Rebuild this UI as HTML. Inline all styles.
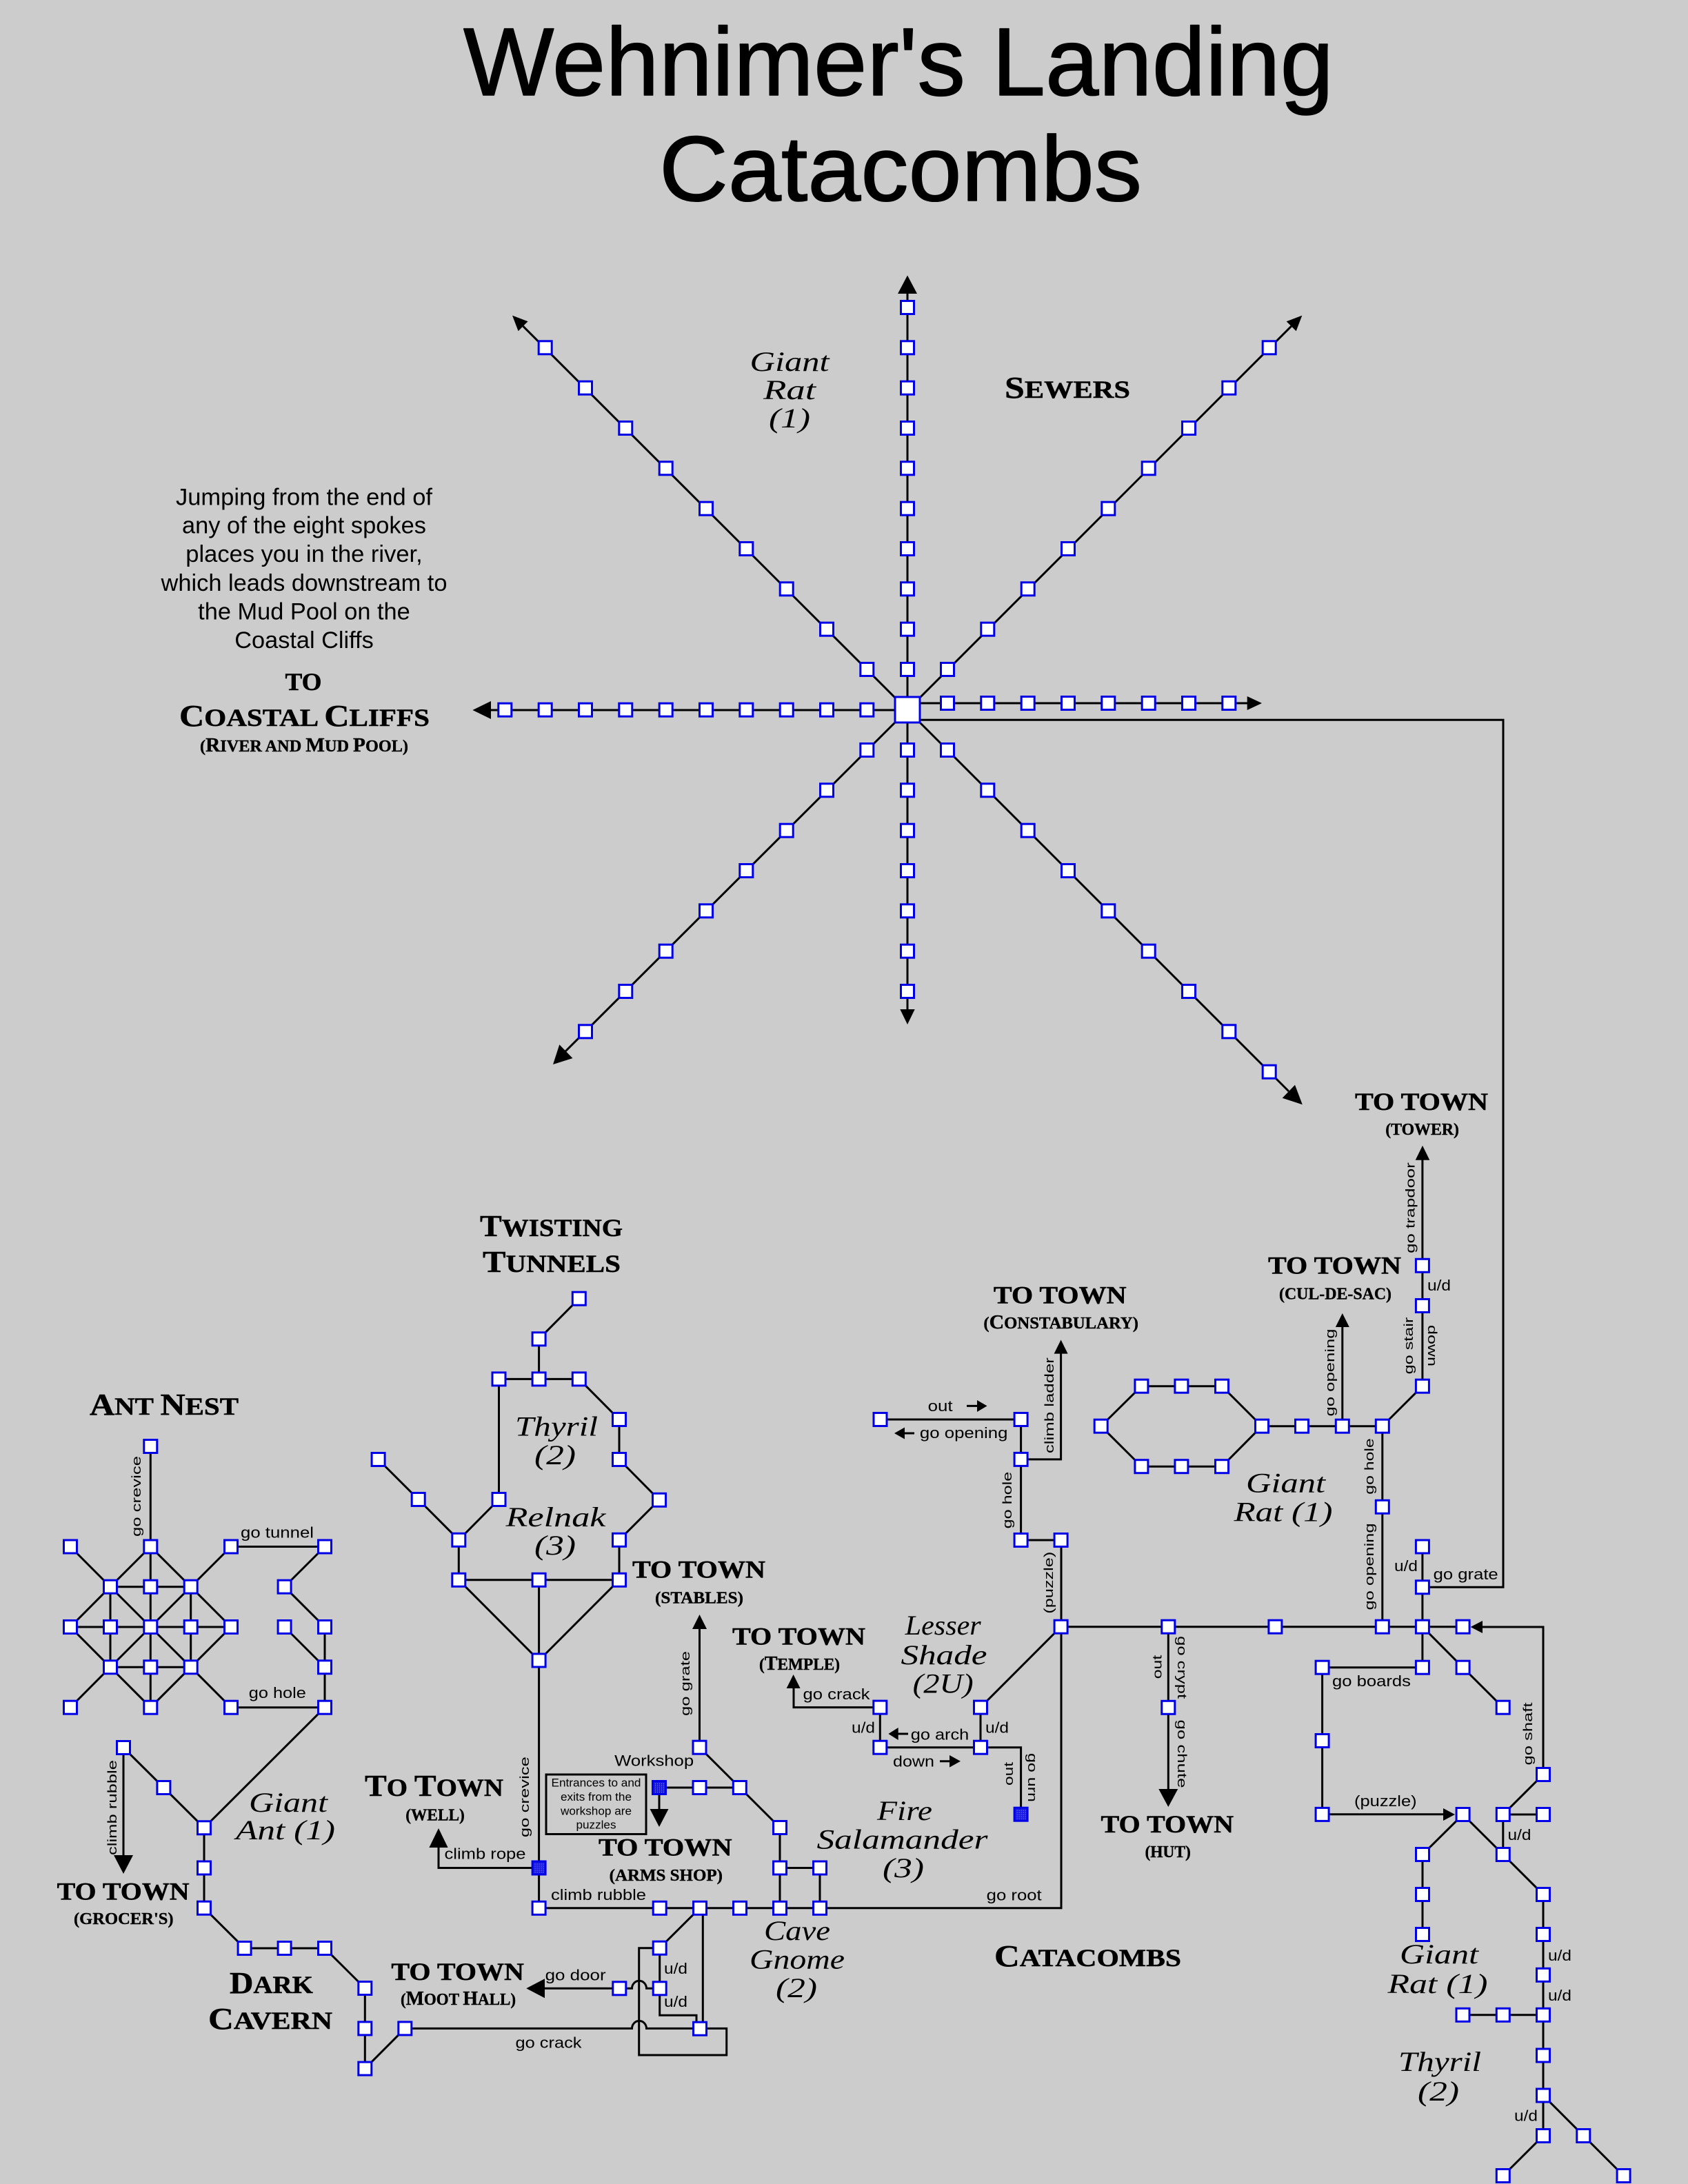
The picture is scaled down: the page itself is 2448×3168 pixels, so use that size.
<!DOCTYPE html>
<html><head><meta charset="utf-8"><title>Wehnimer's Landing Catacombs</title>
<style>
html,body{margin:0;padding:0;background:#ccc}
svg{display:block}
text{fill:#000;text-anchor:middle}
.l{font:22px "Liberation Sans",sans-serif}
.r{font:18.5px "Liberation Sans",sans-serif}
.j{font:34px "Liberation Sans",sans-serif}
.b{font:17px "Liberation Sans",sans-serif}
.h{font:bold 36px "Liberation Serif",serif;stroke:#000;stroke-width:.5}
.u{font:bold 24px "Liberation Serif",serif;stroke:#000;stroke-width:.4}
.c{font:italic 40px "Liberation Serif",serif}
.t{font:140px "Liberation Sans",sans-serif;stroke:#000;stroke-width:1.5;stroke-linejoin:round}
.w{fill:none;stroke:#000;stroke-width:3}
</style></head><body>
<svg xmlns="http://www.w3.org/2000/svg" width="2448" height="3168" viewBox="0 0 2448 3168">
<defs>
<rect id="n" x="-9.5" y="-9.5" width="19" height="19" fill="#fff" stroke="#0000e6" stroke-width="3"/>
<pattern id="p" width="3" height="3" patternUnits="userSpaceOnUse"><rect width="3" height="3" fill="#1a1ae6"/><rect width="1" height="1" fill="#9a9af5"/></pattern>
<rect id="f" x="-9.5" y="-9.5" width="19" height="19" fill="url(#p)" stroke="#0000e6" stroke-width="3"/>
</defs>
<rect width="2448" height="3168" fill="#ccc"/>

<text class="t" x="1303" y="138" textLength="1262" lengthAdjust="spacingAndGlyphs">Wehnimer's Landing</text>
<text class="t" x="1306" y="291" textLength="700" lengthAdjust="spacingAndGlyphs" style="font-size:134px">Catacombs</text>

<!-- sewers -->
<g class="w">
<path d="M1316 1030V426M1316 1030V1465M1316 1030H712M1316 1020H1809M1316 1030L758.6 473.2M1316 1030L1872.7 473.2M1316 1030L820 1525M1316 1030L1869 1583"/>
<path d="M1335 1044.3H2180V2302.3H2062.9"/>
</g>
<g>
<path d="M1316 399.5L1302 426H1330Z"/>
<path d="M1316 1486L1305.3 1464H1326.7Z"/>
<path d="M685.4 1030L712 1017V1043Z"/>
<path d="M1830 1020L1808.7 1010V1030Z"/>
<path d="M743 457.6L765.6 466.2L751.6 480.2Z"/>
<path d="M1888.3 457.6L1865.7 466.2L1879.7 480.2Z"/>
<path d="M802 1544L811.3 1515.3L830.4 1535Z"/>
<path d="M1888.8 1602.3L1878 1573.7L1859.7 1592.7Z"/>
</g>
<rect x="1298" y="1011" width="36" height="37" fill="#fff" stroke="#0000e6" stroke-width="3"/>
<g>
<use href="#n" x="1316" y="971"/><use href="#n" x="1316" y="912.7"/><use href="#n" x="1316" y="854.3"/><use href="#n" x="1316" y="796"/><use href="#n" x="1316" y="737.7"/><use href="#n" x="1316" y="679.3"/><use href="#n" x="1316" y="621"/><use href="#n" x="1316" y="562.7"/><use href="#n" x="1316" y="504.3"/><use href="#n" x="1316" y="446"/>
<use href="#n" x="1316" y="1088"/><use href="#n" x="1316" y="1146.3"/><use href="#n" x="1316" y="1204.7"/><use href="#n" x="1316" y="1263"/><use href="#n" x="1316" y="1321.3"/><use href="#n" x="1316" y="1379.7"/><use href="#n" x="1316" y="1438"/>
<use href="#n" x="1257.3" y="1029.7"/><use href="#n" x="1199" y="1029.7"/><use href="#n" x="1140.7" y="1029.7"/><use href="#n" x="1082.3" y="1029.7"/><use href="#n" x="1024" y="1029.7"/><use href="#n" x="965.7" y="1029.7"/><use href="#n" x="907.3" y="1029.7"/><use href="#n" x="849" y="1029.7"/><use href="#n" x="790.7" y="1029.7"/><use href="#n" x="732.3" y="1029.7"/>
<use href="#n" x="1374" y="1020"/><use href="#n" x="1432.3" y="1020"/><use href="#n" x="1490.7" y="1020"/><use href="#n" x="1549" y="1020"/><use href="#n" x="1607.3" y="1020"/><use href="#n" x="1665.7" y="1020"/><use href="#n" x="1724" y="1020"/><use href="#n" x="1782.3" y="1020"/>
<use href="#n" x="1374" y="971"/><use href="#n" x="1432.3" y="912.7"/><use href="#n" x="1490.7" y="854.3"/><use href="#n" x="1549" y="796"/><use href="#n" x="1607.3" y="737.7"/><use href="#n" x="1665.7" y="679.3"/><use href="#n" x="1724" y="621"/><use href="#n" x="1782.3" y="562.7"/><use href="#n" x="1840.7" y="504.3"/>
<use href="#n" x="1257.3" y="971"/><use href="#n" x="1199" y="912.7"/><use href="#n" x="1140.7" y="854.3"/><use href="#n" x="1082.3" y="796"/><use href="#n" x="1024" y="737.7"/><use href="#n" x="965.7" y="679.3"/><use href="#n" x="907.3" y="621"/><use href="#n" x="849" y="562.7"/><use href="#n" x="790.7" y="504.3"/>
<use href="#n" x="1374" y="1088"/><use href="#n" x="1432.3" y="1146.3"/><use href="#n" x="1490.7" y="1204.7"/><use href="#n" x="1549" y="1263"/><use href="#n" x="1607.3" y="1321.3"/><use href="#n" x="1665.7" y="1379.7"/><use href="#n" x="1724" y="1438"/><use href="#n" x="1782.3" y="1496.3"/><use href="#n" x="1840.7" y="1554.7"/>
<use href="#n" x="1257.3" y="1088"/><use href="#n" x="1199" y="1146.3"/><use href="#n" x="1140.7" y="1204.7"/><use href="#n" x="1082.3" y="1263"/><use href="#n" x="1024" y="1321.3"/><use href="#n" x="965.7" y="1379.7"/><use href="#n" x="907.3" y="1438"/><use href="#n" x="849" y="1496.3"/>
</g>

<!-- connectors -->
<g class="w">
<!-- ant nest -->
<path d="M218.3 2098V2476.7M160 2301.7H276.7M102 2360H335M160 2418.3H276.7M160 2301.7V2418.3M276.7 2301.7V2418.3"/>
<path d="M102 2243.5L160 2301.7L218.3 2243.5L276.7 2301.7L335 2243.5H471L412.6 2301.7L471 2360V2476.7M160 2301.7L102 2360L160 2418.3L218.3 2360L160 2301.7M276.7 2301.7L218.3 2360L276.7 2418.3L335 2360L276.7 2301.7M160 2418.3L102 2476.7M160 2418.3L218.3 2476.7L276.7 2418.3L335 2476.7H471L296 2651.3M412.6 2360L471 2418.3"/>
<path d="M179 2535V2692M179 2535L237.4 2593L296 2651.3V2767.7L354.6 2826H471L529.3 2884V3000.6L587.3 2942.4H916.5A10.5 11 0 0 1 937.5 2942.4H1053.7V2981H926.7V2825.7H956.7V2923.3H1010V2942M956.7 2825.7L1015 2767.7M1019.3 2767.7V2942.7"/>
<path d="M790 2884.3H916.5A10.5 11 0 0 1 937.5 2884.3H956.7"/>
<!-- tunnels -->
<path d="M839.8 1883.7L781.6 1942.3V2000.4M723.5 2000.4H839.8L898 2059V2117L956 2175.8L898 2233.8V2291.8H665.3V2233.8L606.7 2175L548.6 2117M665.3 2233.8L723.5 2175V2000.4M665.3 2291.8L781.6 2408.5L898 2291.8M781.6 2291.8V2767.8H1539V2234H1480.6V2059H1276.5M781.6 2709.5H636V2680"/>
<path d="M1014.5 2363V2534.7L1131 2651V2767.8M956 2593H1072.8M956 2593V2625M1131 2709.5H1189V2767.8"/>
<!-- centre -->
<path d="M1151 2449V2476.6H1276.3V2534.7H1480.6V2631.7M1422 2476.6V2534.7M1422 2476.6L1538.6 2359.7H2121.6M1480.6 2116.9H1538.6V1963"/>
<path d="M1694.3 2359.7V2596M1317 2515H1300M1363 2554.8H1380M1402 2039.4H1420M1326 2079H1308"/>
<path d="M1655.4 2010.7H1772L1830 2068.7L1772 2127.2H1655.4L1596.7 2068.7ZM1830 2068.7H2004.8V2359.7M2004.8 2068.7L2062.9 2010.7V1682M1946.8 2068.7V1925"/>
<path d="M2062.9 2243.7V2418.8H1917.6V2631.8H2094M2062.9 2359.7L2121.6 2418.8L2179.7 2476.8M2238 2574V2360H2150M2238 2574L2179.8 2632V2690M2179.8 2632H2238M2121.6 2632L2063 2690V2806M2121.6 2632L2238 2748V3098L2179.8 3156M2238 3039.5L2354.6 3156M2238 2922.8H2121.5"/>
</g>

<!-- arrows -->
<g>
<path d="M179 2718L165 2691H193Z"/>
<path d="M636 2652L622.4 2680H649.6Z"/>
<path d="M763.3 2884.3L790 2870.3V2898.3Z"/>
<path d="M956 2650L942.5 2624H969.5Z"/>
<path d="M1014.5 2342L1004 2363H1025Z"/>
<path d="M1150.6 2429L1140.6 2449H1160.6Z"/>
<path d="M1288.4 2515L1302.7 2506V2524Z"/>
<path d="M1393 2554.8L1377 2546V2563.6Z"/>
<path d="M1431.5 2039.4L1417 2031V2048Z"/>
<path d="M1297 2079L1312 2070.5V2087.5Z"/>
<path d="M1538.6 1943.5L1528.6 1963.6H1548.6Z"/>
<path d="M1694.3 2621L1680.3 2595H1708.3Z"/>
<path d="M1946.8 1905L1936.8 1925H1956.8Z"/>
<path d="M2063 1661.7L2052.7 1682.7H2073.3Z"/>
<path d="M2132.6 2360L2150 2351V2369Z"/>
<path d="M2110 2632L2093 2623V2641Z"/>
</g>

<!-- nodes -->
<g>
<use href="#n" x="218.3" y="2098"/>
<use href="#n" x="102" y="2243.5"/><use href="#n" x="218.3" y="2243.5"/><use href="#n" x="335" y="2243.5"/>
<use href="#n" x="160" y="2301.7"/><use href="#n" x="218.3" y="2301.7"/><use href="#n" x="276.7" y="2301.7"/>
<use href="#n" x="102" y="2360"/><use href="#n" x="160" y="2360"/><use href="#n" x="218.3" y="2360"/><use href="#n" x="276.7" y="2360"/><use href="#n" x="335" y="2360"/>
<use href="#n" x="160" y="2418.3"/><use href="#n" x="218.3" y="2418.3"/><use href="#n" x="276.7" y="2418.3"/>
<use href="#n" x="102" y="2476.7"/><use href="#n" x="218.3" y="2476.7"/><use href="#n" x="335" y="2476.7"/>
<use href="#n" x="471" y="2243.5"/><use href="#n" x="412.6" y="2301.7"/><use href="#n" x="471" y="2360"/><use href="#n" x="412.6" y="2360"/><use href="#n" x="471" y="2418.3"/><use href="#n" x="471" y="2476.7"/>
<use href="#n" x="179" y="2535"/><use href="#n" x="237.4" y="2593"/><use href="#n" x="296" y="2651.3"/><use href="#n" x="296" y="2709.5"/><use href="#n" x="296" y="2767.7"/>
<use href="#n" x="354.6" y="2826"/><use href="#n" x="412.6" y="2826"/><use href="#n" x="471" y="2826"/><use href="#n" x="529.3" y="2884"/><use href="#n" x="529.3" y="2942.4"/><use href="#n" x="529.3" y="3000.6"/><use href="#n" x="587.3" y="2942.4"/>
<use href="#n" x="839.8" y="1883.7"/><use href="#n" x="781.6" y="1942.3"/><use href="#n" x="723.5" y="2000.4"/><use href="#n" x="781.6" y="2000.4"/><use href="#n" x="839.8" y="2000.4"/><use href="#n" x="898" y="2059"/><use href="#n" x="898" y="2117"/><use href="#n" x="956" y="2175.8"/><use href="#n" x="898" y="2233.8"/><use href="#n" x="898" y="2291.8"/><use href="#n" x="781.6" y="2291.8"/><use href="#n" x="665.3" y="2291.8"/><use href="#n" x="665.3" y="2233.8"/><use href="#n" x="723.5" y="2175"/><use href="#n" x="606.7" y="2175"/><use href="#n" x="548.6" y="2117"/><use href="#n" x="781.6" y="2408.5"/>
<use href="#f" x="781.6" y="2709.5"/><use href="#n" x="781.6" y="2767.8"/>
<use href="#n" x="1014.5" y="2534.7"/><use href="#f" x="956" y="2593"/><use href="#n" x="1014.5" y="2593"/><use href="#n" x="1072.8" y="2593"/><use href="#n" x="1131" y="2651"/><use href="#n" x="1131" y="2709.5"/><use href="#n" x="1189" y="2709.5"/>
<use href="#n" x="956.7" y="2767.8"/><use href="#n" x="1015" y="2767.8"/><use href="#n" x="1073" y="2767.8"/><use href="#n" x="1131" y="2767.8"/><use href="#n" x="1189" y="2767.8"/>
<use href="#n" x="956.7" y="2825.7"/><use href="#n" x="956.7" y="2884.3"/><use href="#n" x="898.3" y="2884.3"/><use href="#n" x="1015" y="2942.7"/>
<use href="#n" x="1276.3" y="2476.6"/><use href="#n" x="1276.3" y="2534.7"/><use href="#n" x="1422" y="2476.6"/><use href="#n" x="1422" y="2534.7"/><use href="#f" x="1480.6" y="2631.7"/>
<use href="#n" x="1276.5" y="2059"/><use href="#n" x="1480.6" y="2059"/><use href="#n" x="1480.6" y="2116.9"/><use href="#n" x="1480.6" y="2234"/><use href="#n" x="1538.6" y="2234"/><use href="#n" x="1538.6" y="2359.7"/>
<use href="#n" x="1694.3" y="2359.7"/><use href="#n" x="1849.4" y="2359.7"/><use href="#n" x="2004.8" y="2359.7"/><use href="#n" x="2062.9" y="2359.7"/><use href="#n" x="2121.6" y="2359.7"/><use href="#n" x="1694.3" y="2476.8"/>
<use href="#n" x="1596.7" y="2068.7"/><use href="#n" x="1655.4" y="2010.7"/><use href="#n" x="1713.4" y="2010.7"/><use href="#n" x="1772" y="2010.7"/><use href="#n" x="1830" y="2068.7"/><use href="#n" x="1655.4" y="2127.2"/><use href="#n" x="1713.4" y="2127.2"/><use href="#n" x="1772" y="2127.2"/><use href="#n" x="1888" y="2068.7"/><use href="#n" x="1946.8" y="2068.7"/><use href="#n" x="2004.8" y="2068.7"/>
<use href="#n" x="2062.9" y="2010.7"/><use href="#n" x="2062.9" y="1894"/><use href="#n" x="2062.9" y="1835.8"/><use href="#n" x="2004.8" y="2185.8"/>
<use href="#n" x="2062.9" y="2243.5"/><use href="#n" x="2062.9" y="2302.3"/><use href="#n" x="2062.9" y="2418.7"/><use href="#n" x="1917.6" y="2418.7"/><use href="#n" x="1917.6" y="2525"/><use href="#n" x="1917.6" y="2631.9"/><use href="#n" x="2121.6" y="2418.7"/><use href="#n" x="2179.7" y="2476.7"/>
<use href="#n" x="2121.6" y="2632"/><use href="#n" x="2179.8" y="2632"/><use href="#n" x="2238" y="2632"/><use href="#n" x="2238" y="2574"/>
<use href="#n" x="2063" y="2690"/><use href="#n" x="2063" y="2748"/><use href="#n" x="2063" y="2806"/><use href="#n" x="2179.8" y="2690"/>
<use href="#n" x="2238" y="2748"/><use href="#n" x="2238" y="2806"/><use href="#n" x="2238" y="2864.8"/><use href="#n" x="2238" y="2922.8"/><use href="#n" x="2179.8" y="2922.8"/><use href="#n" x="2121.5" y="2922.8"/><use href="#n" x="2238" y="2981.5"/><use href="#n" x="2238" y="3039.5"/><use href="#n" x="2238" y="3098"/><use href="#n" x="2296.3" y="3098"/><use href="#n" x="2179.8" y="3156"/><use href="#n" x="2354.6" y="3156"/>
</g>

<!-- workshop box -->
<rect x="792" y="2574" width="145" height="86.5" fill="none" stroke="#000" stroke-width="3"/>
<text class="b" x="864.5" y="2591.5" textLength="130" lengthAdjust="spacingAndGlyphs">Entrances to and</text>
<text class="b" x="864.5" y="2612" textLength="103" lengthAdjust="spacingAndGlyphs">exits from the</text>
<text class="b" x="864.5" y="2632.5" textLength="103" lengthAdjust="spacingAndGlyphs">workshop are</text>
<text class="b" x="864.5" y="2652.5" textLength="58" lengthAdjust="spacingAndGlyphs">puzzles</text>

<!-- note -->
<text class="j" x="441" y="732.4" textLength="372" lengthAdjust="spacingAndGlyphs">Jumping from the end of</text>
<text class="j" x="441" y="773.7" textLength="354" lengthAdjust="spacingAndGlyphs">any of the eight spokes</text>
<text class="j" x="441" y="815" textLength="343.5" lengthAdjust="spacingAndGlyphs">places you in the river,</text>
<text class="j" x="441" y="857" textLength="415" lengthAdjust="spacingAndGlyphs">which leads downstream to</text>
<text class="j" x="441" y="898.4" textLength="307.6" lengthAdjust="spacingAndGlyphs">the Mud Pool on the</text>
<text class="j" x="441" y="939.8" textLength="201.5" lengthAdjust="spacingAndGlyphs">Coastal Cliffs</text>

<!-- headings -->
<text class="h" x="440" y="1001" textLength="53" lengthAdjust="spacingAndGlyphs">TO</text>
<text class="h" x="441.5" y="1053" textLength="363" lengthAdjust="spacingAndGlyphs"><tspan font-size="44">C</tspan>OASTAL <tspan font-size="44">C</tspan>LIFFS</text>
<text class="u" x="441" y="1090" textLength="302" lengthAdjust="spacingAndGlyphs">(<tspan font-size="29">R</tspan>IVER AND <tspan font-size="29">M</tspan>UD <tspan font-size="29">P</tspan>OOL)</text>
<text class="h" x="1548" y="577" textLength="182" lengthAdjust="spacingAndGlyphs"><tspan font-size="44">S</tspan>EWERS</text>
<text class="h" x="238" y="2052" textLength="216" lengthAdjust="spacingAndGlyphs"><tspan font-size="44">A</tspan>NT <tspan font-size="44">N</tspan>EST</text>
<text class="h" x="799.5" y="1793" textLength="207" lengthAdjust="spacingAndGlyphs"><tspan font-size="44">T</tspan>WISTING</text>
<text class="h" x="800" y="1845" textLength="200" lengthAdjust="spacingAndGlyphs"><tspan font-size="44">T</tspan>UNNELS</text>
<text class="h" x="393.5" y="2891" textLength="121" lengthAdjust="spacingAndGlyphs"><tspan font-size="44">D</tspan>ARK</text>
<text class="h" x="392" y="2943" textLength="180" lengthAdjust="spacingAndGlyphs"><tspan font-size="44">C</tspan>AVERN</text>
<text class="h" x="1577.5" y="2852" textLength="271" lengthAdjust="spacingAndGlyphs"><tspan font-size="44">C</tspan>ATACOMBS</text>

<text class="h" x="178.6" y="2755.6" textLength="192" lengthAdjust="spacingAndGlyphs">TO TOWN</text>
<text class="u" x="179.3" y="2791" textLength="144.6" lengthAdjust="spacingAndGlyphs">(GROCER'S)</text>
<text class="h" x="629.5" y="2605" textLength="201" lengthAdjust="spacingAndGlyphs"><tspan font-size="44">T</tspan>O <tspan font-size="44">T</tspan>OWN</text>
<text class="u" x="631" y="2640.7" textLength="85.6" lengthAdjust="spacingAndGlyphs">(WELL)</text>
<text class="h" x="663.7" y="2872" textLength="192.5" lengthAdjust="spacingAndGlyphs">TO TOWN</text>
<text class="u" x="664.5" y="2908" textLength="167" lengthAdjust="spacingAndGlyphs">(<tspan font-size="29">M</tspan>OOT <tspan font-size="29">H</tspan>ALL)</text>
<text class="h" x="1013.5" y="2288.6" textLength="193" lengthAdjust="spacingAndGlyphs">TO TOWN</text>
<text class="u" x="1014" y="2325.6" textLength="128" lengthAdjust="spacingAndGlyphs">(STABLES)</text>
<text class="h" x="1158.5" y="2385.6" textLength="193" lengthAdjust="spacingAndGlyphs">TO TOWN</text>
<text class="u" x="1159.5" y="2422" textLength="117" lengthAdjust="spacingAndGlyphs">(<tspan font-size="29">T</tspan>EMPLE)</text>
<text class="h" x="964.8" y="2691.5" textLength="193.6" lengthAdjust="spacingAndGlyphs">TO TOWN</text>
<text class="u" x="965.8" y="2728" textLength="164.3" lengthAdjust="spacingAndGlyphs">(ARMS SHOP)</text>
<text class="h" x="1537.3" y="1890.7" textLength="192.7" lengthAdjust="spacingAndGlyphs">TO TOWN</text>
<text class="u" x="1538.7" y="1927" textLength="224.6" lengthAdjust="spacingAndGlyphs">(<tspan font-size="29">C</tspan>ONSTABULARY)</text>
<text class="h" x="1935.5" y="1847.6" textLength="193" lengthAdjust="spacingAndGlyphs">TO TOWN</text>
<text class="u" x="1936.5" y="1884.4" textLength="163" lengthAdjust="spacingAndGlyphs">(CUL-DE-SAC)</text>
<text class="h" x="1692.8" y="2658" textLength="192.6" lengthAdjust="spacingAndGlyphs">TO TOWN</text>
<text class="u" x="1693.6" y="2694" textLength="66.3" lengthAdjust="spacingAndGlyphs">(HUT)</text>
<text class="h" x="2061.5" y="1610" textLength="193" lengthAdjust="spacingAndGlyphs">TO TOWN</text>
<text class="u" x="2062.6" y="1646" textLength="106.7" lengthAdjust="spacingAndGlyphs">(TOWER)</text>

<!-- creatures -->
<text class="c" x="1145" y="538" textLength="115" lengthAdjust="spacingAndGlyphs">Giant</text>
<text class="c" x="1145" y="579" textLength="76" lengthAdjust="spacingAndGlyphs">Rat</text>
<text class="c" x="1145" y="620" textLength="60" lengthAdjust="spacingAndGlyphs">(1)</text>
<text class="c" x="418" y="2628" textLength="114" lengthAdjust="spacingAndGlyphs">Giant</text>
<text class="c" x="414" y="2668" textLength="144" lengthAdjust="spacingAndGlyphs">Ant (1)</text>
<text class="c" x="807" y="2082.6" textLength="120" lengthAdjust="spacingAndGlyphs">Thyril</text>
<text class="c" x="805" y="2124" textLength="60" lengthAdjust="spacingAndGlyphs">(2)</text>
<text class="c" x="806" y="2214" textLength="145" lengthAdjust="spacingAndGlyphs">Relnak</text>
<text class="c" x="805" y="2255" textLength="60" lengthAdjust="spacingAndGlyphs">(3)</text>
<text class="c" x="1312" y="2640" textLength="80" lengthAdjust="spacingAndGlyphs">Fire</text>
<text class="c" x="1308.5" y="2681.6" textLength="248" lengthAdjust="spacingAndGlyphs">Salamander</text>
<text class="c" x="1310" y="2723" textLength="60" lengthAdjust="spacingAndGlyphs">(3)</text>
<text class="c" x="1156" y="2814" textLength="96" lengthAdjust="spacingAndGlyphs">Cave</text>
<text class="c" x="1156" y="2855.5" textLength="138" lengthAdjust="spacingAndGlyphs">Gnome</text>
<text class="c" x="1155" y="2897" textLength="60" lengthAdjust="spacingAndGlyphs">(2)</text>
<text class="c" x="1367.7" y="2371" textLength="110" lengthAdjust="spacingAndGlyphs">Lesser</text>
<text class="c" x="1369" y="2414" textLength="125" lengthAdjust="spacingAndGlyphs">Shade</text>
<text class="c" x="1367.7" y="2455.6" textLength="88" lengthAdjust="spacingAndGlyphs">(2U)</text>
<text class="c" x="1864.5" y="2164.5" textLength="115" lengthAdjust="spacingAndGlyphs">Giant</text>
<text class="c" x="1861" y="2206.4" textLength="143" lengthAdjust="spacingAndGlyphs">Rat (1)</text>
<text class="c" x="2087" y="2848" textLength="114" lengthAdjust="spacingAndGlyphs">Giant</text>
<text class="c" x="2085" y="2891" textLength="145" lengthAdjust="spacingAndGlyphs">Rat (1)</text>
<text class="c" x="2088" y="3004" textLength="120" lengthAdjust="spacingAndGlyphs">Thyril</text>
<text class="c" x="2086" y="3047" textLength="60" lengthAdjust="spacingAndGlyphs">(2)</text>

<!-- horizontal labels -->
<text class="l" x="402" y="2230.7" textLength="106" lengthAdjust="spacingAndGlyphs">go tunnel</text>
<text class="l" x="402.3" y="2463" textLength="83" lengthAdjust="spacingAndGlyphs">go hole</text>
<text class="l" x="703.5" y="2696.5" textLength="118" lengthAdjust="spacingAndGlyphs">climb rope</text>
<text class="l" x="948.6" y="2561.6" textLength="115" lengthAdjust="spacingAndGlyphs">Workshop</text>
<text class="l" x="868" y="2756" textLength="138" lengthAdjust="spacingAndGlyphs">climb rubble</text>
<text class="l" x="1470.7" y="2756.6" textLength="80" lengthAdjust="spacingAndGlyphs">go root</text>
<text class="l" x="834.6" y="2872.6" textLength="88" lengthAdjust="spacingAndGlyphs">go door</text>
<text class="l" x="980" y="2863" textLength="34" lengthAdjust="spacingAndGlyphs">u/d</text>
<text class="l" x="980" y="2911" textLength="34" lengthAdjust="spacingAndGlyphs">u/d</text>
<text class="l" x="795.5" y="2970.6" textLength="96" lengthAdjust="spacingAndGlyphs">go crack</text>
<text class="l" x="1213" y="2465" textLength="97" lengthAdjust="spacingAndGlyphs">go crack</text>
<text class="l" x="1252" y="2513.6" textLength="34" lengthAdjust="spacingAndGlyphs">u/d</text>
<text class="l" x="1363" y="2523.4" textLength="84.5" lengthAdjust="spacingAndGlyphs">go arch</text>
<text class="l" x="1446" y="2513.6" textLength="34" lengthAdjust="spacingAndGlyphs">u/d</text>
<text class="l" x="1325" y="2562.6" textLength="60" lengthAdjust="spacingAndGlyphs">down</text>
<text class="l" x="1363.6" y="2046.8" textLength="36" lengthAdjust="spacingAndGlyphs">out</text>
<text class="l" x="1397.7" y="2086" textLength="127.5" lengthAdjust="spacingAndGlyphs">go opening</text>
<text class="l" x="2087" y="1871.8" textLength="34" lengthAdjust="spacingAndGlyphs">u/d</text>
<text class="l" x="2039" y="2279" textLength="34" lengthAdjust="spacingAndGlyphs">u/d</text>
<text class="l" x="2125.7" y="2290.8" textLength="94" lengthAdjust="spacingAndGlyphs">go grate</text>
<text class="l" x="1989" y="2445.8" textLength="114" lengthAdjust="spacingAndGlyphs">go boards</text>
<text class="l" x="2009.3" y="2619.8" textLength="90.6" lengthAdjust="spacingAndGlyphs">(puzzle)</text>
<text class="l" x="2203.5" y="2669" textLength="34" lengthAdjust="spacingAndGlyphs">u/d</text>
<text class="l" x="2262" y="2843.8" textLength="34" lengthAdjust="spacingAndGlyphs">u/d</text>
<text class="l" x="2262" y="2901.9" textLength="34" lengthAdjust="spacingAndGlyphs">u/d</text>
<text class="l" x="2213" y="3076.5" textLength="34" lengthAdjust="spacingAndGlyphs">u/d</text>

<!-- rotated labels -->
<text class="r" x="204" y="2170.5" transform="rotate(-90 204 2170.5)" textLength="117" lengthAdjust="spacingAndGlyphs">go crevice</text>
<text class="r" x="169" y="2622" transform="rotate(-90 169 2622)" textLength="138" lengthAdjust="spacingAndGlyphs">climb rubble</text>
<text class="r" x="767" y="2606.6" transform="rotate(-90 767 2606.6)" textLength="117" lengthAdjust="spacingAndGlyphs">go crevice</text>
<text class="r" x="1000" y="2442" transform="rotate(-90 1000 2442)" textLength="94" lengthAdjust="spacingAndGlyphs">go grate</text>
<text class="r" x="1469" y="2573" transform="rotate(-90 1469 2573)" textLength="34" lengthAdjust="spacingAndGlyphs">out</text>
<text class="r" x="1491" y="2578.5" transform="rotate(90 1491 2578.5)" textLength="71" lengthAdjust="spacingAndGlyphs">go urn</text>
<text class="r" x="1528" y="2038.6" transform="rotate(-90 1528 2038.6)" textLength="139" lengthAdjust="spacingAndGlyphs">climb ladder</text>
<text class="r" x="1467" y="2176" transform="rotate(-90 1467 2176)" textLength="82.6" lengthAdjust="spacingAndGlyphs">go hole</text>
<text class="r" x="1527" y="2295.7" transform="rotate(-90 1527 2295.7)" textLength="90" lengthAdjust="spacingAndGlyphs">(puzzle)</text>
<text class="r" x="1935" y="1991" transform="rotate(-90 1935 1991)" textLength="127" lengthAdjust="spacingAndGlyphs">go opening</text>
<text class="r" x="2049" y="1952" transform="rotate(-90 2049 1952)" textLength="82.7" lengthAdjust="spacingAndGlyphs">go stair</text>
<text class="r" x="2071" y="1952" transform="rotate(90 2071 1952)" textLength="60" lengthAdjust="spacingAndGlyphs">down</text>
<text class="r" x="2051.7" y="1752" transform="rotate(-90 2051.7 1752)" textLength="131.6" lengthAdjust="spacingAndGlyphs">go trapdoor</text>
<text class="r" x="1992" y="2127" transform="rotate(-90 1992 2127)" textLength="81.5" lengthAdjust="spacingAndGlyphs">go hole</text>
<text class="r" x="1992" y="2272.5" transform="rotate(-90 1992 2272.5)" textLength="126" lengthAdjust="spacingAndGlyphs">go opening</text>
<text class="r" x="1708" y="2418.6" transform="rotate(90 1708 2418.6)" textLength="91" lengthAdjust="spacingAndGlyphs">go crypt</text>
<text class="r" x="1708" y="2544" transform="rotate(90 1708 2544)" textLength="99" lengthAdjust="spacingAndGlyphs">go chute</text>
<text class="r" x="1684.5" y="2418" transform="rotate(-90 1684.5 2418)" textLength="34.5" lengthAdjust="spacingAndGlyphs">out</text>
<text class="r" x="2222" y="2515" transform="rotate(-90 2222 2515)" textLength="91" lengthAdjust="spacingAndGlyphs">go shaft</text>
</svg>
</body></html>
